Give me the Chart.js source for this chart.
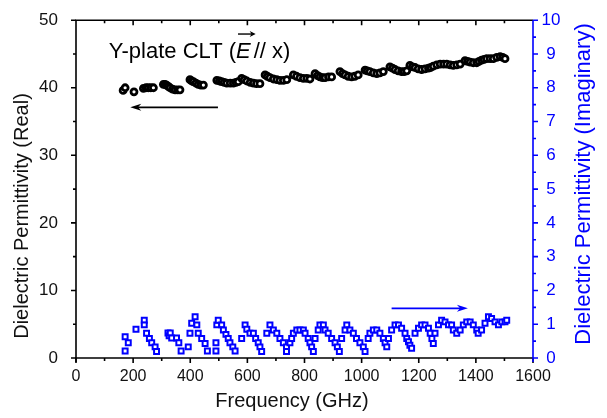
<!DOCTYPE html>
<html>
<head>
<meta charset="utf-8">
<script src="https://cdn.jsdelivr.net/npm/chart.js@4"></script>
<style>
  html, body { margin: 0; padding: 0; background: #fff; }
  #wrap { width: 607px; height: 418px; }
</style>
</head>
<body>
<div id="wrap"><canvas id="c"></canvas></div>
<script>
// --- data ---
const realFreq = [165, 172, 203, 236, 245, 253, 262, 271,
  306, 312, 317, 323, 329, 338, 347, 356, 364,
  399, 405, 411, 420, 428, 437, 446,
  493, 502, 510, 519, 528, 540, 551, 560, 568,
  580, 589, 598, 610, 621, 632, 644,
  662, 670, 679, 691, 703, 714, 726, 738,
  761, 772, 784, 796, 808, 819,
  837, 846, 854, 863, 872, 884, 895,
  924, 933, 942, 953, 965, 976, 988,
  1012, 1020, 1029, 1041, 1053, 1064, 1076,
  1099, 1108, 1117, 1128, 1140, 1149, 1158,
  1169, 1178, 1187, 1198, 1210, 1222, 1234, 1242, 1251,
  1263, 1275, 1287, 1298, 1310, 1321, 1333, 1345,
  1362, 1371, 1380, 1391, 1403, 1411, 1420,
  1429, 1438, 1450, 1461, 1473, 1485, 1494, 1502];
const realVals = [39.6, 40.0, 39.4, 39.9, 40.0, 40.0, 40.0, 40.0,
  40.5, 40.5, 40.4, 40.2, 40.0, 39.8, 39.7, 39.7, 39.7,
  41.2, 41.0, 40.9, 40.7, 40.5, 40.4, 40.4,
  41.1, 41.0, 40.9, 40.8, 40.7, 40.7, 40.7, 40.8, 40.9,
  41.4, 41.2, 41.0, 40.8, 40.7, 40.6, 40.6,
  41.9, 41.7, 41.5, 41.3, 41.2, 41.1, 41.1, 41.2,
  41.9, 41.7, 41.5, 41.4, 41.4, 41.3,
  42.1, 41.8, 41.6, 41.5, 41.5, 41.6, 41.6,
  42.4, 42.1, 41.9, 41.7, 41.6, 41.7, 41.9,
  42.6, 42.5, 42.4, 42.2, 42.1, 42.2, 42.4,
  43.1, 42.9, 42.7, 42.5, 42.4, 42.4, 42.5,
  43.3, 43.1, 43.0, 42.8, 42.7, 42.8, 42.9, 43.0, 43.2,
  43.4, 43.5, 43.5, 43.5, 43.4, 43.3, 43.4, 43.5,
  44.0, 43.9, 43.8, 43.7, 43.7, 43.9, 44.1,
  44.2, 44.3, 44.3, 44.3, 44.5, 44.6, 44.5, 44.3];

const imagFreq = [172, 172, 183, 210, 239, 239, 247, 257, 265, 277, 282,
  322, 326, 330, 335, 352, 360, 368, 393, 399, 405, 417, 423, 428, 440, 452, 460,
  490, 490, 493, 498, 510, 516, 525, 533, 539, 549, 557,
  580, 592, 598, 609, 621, 629, 638, 644, 650,
  668, 679, 691, 703, 714, 726, 737, 737,
  749, 755, 761, 773, 784, 796, 802, 813, 819, 825, 831,
  837, 848, 854, 866, 872, 883, 895, 907, 915, 922,
  930, 942, 948, 959, 971, 982, 994, 1006, 1012,
  1023, 1029, 1041, 1053, 1064, 1076, 1082, 1088,
  1094, 1105, 1117, 1129, 1140, 1152, 1158, 1164, 1169, 1175,
  1187, 1199, 1210, 1222, 1234, 1240, 1246, 1251,
  1257, 1269, 1280, 1292, 1304, 1315, 1321, 1333,
  1345, 1356, 1368, 1380, 1391, 1403, 1408,
  1420, 1432, 1444, 1455, 1467, 1479, 1491, 1502, 1508];
const imagVals = [0.63, 0.21, 0.45, 0.85, 1.12, 0.98, 0.73, 0.58, 0.45, 0.33, 0.19,
  0.74, 0.66, 0.74, 0.59, 0.59, 0.45, 0.21, 0.33, 0.73, 1.03, 1.22, 0.98, 0.73, 0.58, 0.43, 0.21,
  0.45, 0.21, 0.98, 1.12, 0.98, 0.83, 0.70, 0.58, 0.45, 0.33, 0.21,
  0.58, 0.98, 0.85, 0.73, 0.73, 0.58, 0.45, 0.33, 0.19,
  0.73, 0.98, 0.83, 0.73, 0.58, 0.45, 0.33, 0.19,
  0.45, 0.58, 0.73, 0.83, 0.83, 0.83, 0.73, 0.58, 0.45, 0.33, 0.19,
  0.58, 0.83, 0.98, 0.98, 0.83, 0.73, 0.58, 0.45, 0.33, 0.19,
  0.58, 0.83, 0.98, 0.83, 0.73, 0.58, 0.45, 0.33, 0.19,
  0.58, 0.73, 0.83, 0.83, 0.73, 0.58, 0.45, 0.33,
  0.58, 0.83, 0.98, 0.98, 0.88, 0.73, 0.58, 0.48, 0.38, 0.29,
  0.73, 0.88, 0.98, 0.98, 0.88, 0.73, 0.58, 0.43,
  0.73, 0.98, 1.12, 1.07, 0.98, 0.98, 0.83, 0.73,
  0.83, 0.98, 1.07, 1.07, 0.98, 0.83, 0.73,
  0.83, 1.03, 1.22, 1.17, 1.07, 0.98, 1.07, 1.07, 1.12];

const xTitle = 'Frequency (GHz)';
const yTitle = 'Dielectric Permittivity (Real)';
const y1Title = 'Dielectric Permittivity (Imaginary)';
const y1Labels = ['0', '1', '2', '3', '4', '5', '6', '7', '8', '9', '10'];
const BLUE = '#0000ff';
const FONT = 'Liberation Sans, Arial, Helvetica, sans-serif';

// frame, minor ticks, titles, annotations
const framePlugin = {
    id: 'frame',
    afterDraw(chart) {
        const ctx = chart.ctx;
        const x = chart.scales.x, y = chart.scales.y, y1 = chart.scales.y1;
        const L = x.left, R = x.right, T = y.top, B = y.bottom;
        ctx.save();
        ctx.lineWidth = 1.6;
        ctx.lineCap = 'butt';

        // black part of frame
        ctx.strokeStyle = '#000';
        ctx.beginPath();
        ctx.moveTo(R, T); ctx.lineTo(L, T); ctx.lineTo(L, B + 4);
        ctx.moveTo(L - 1, B); ctx.lineTo(R, B);
        ctx.stroke();

        ctx.beginPath();
        for (let v = 0; v <= 1600; v += 100) {
            const px = x.getPixelForValue(v);
            const len = v % 200 === 0 ? 5 : 3;
            ctx.moveTo(px, B); ctx.lineTo(px, B + len);
            if (v > 0 && v < 1600) { ctx.moveTo(px, T); ctx.lineTo(px, T + len); }
        }
        for (let v = 0; v <= 50; v += 5) {
            const py = y.getPixelForValue(v);
            const len = v % 10 === 0 ? 5 : 3;
            ctx.moveTo(L, py); ctx.lineTo(L - len, py);
        }
        ctx.stroke();

        // blue right axis
        ctx.strokeStyle = BLUE;
        ctx.beginPath();
        ctx.moveTo(R, T); ctx.lineTo(R, B + 4);
        for (let i = 0; i <= 20; i++) {
            const py = y1.getPixelForValue(i / 2);
            const len = i % 2 === 0 ? 5 : 3;
            ctx.moveTo(R, py); ctx.lineTo(R + len, py);
        }
        ctx.stroke();

        // right tick labels, centred like the original
        ctx.fillStyle = BLUE;
        ctx.font = '17px ' + FONT;
        ctx.textAlign = 'center';
        ctx.textBaseline = 'middle';
        y1Labels.forEach((t, i) => ctx.fillText(t, 551, y1.getPixelForValue(i)));

        // axis titles
        ctx.fillStyle = '#111';
        ctx.font = '20px ' + FONT;
        ctx.fillText(xTitle, 292, 401);

        ctx.translate(22, 216);
        ctx.rotate(-Math.PI / 2);
        ctx.fillText(yTitle, 0, 0);
        ctx.setTransform(1, 0, 0, 1, 0, 0);

        ctx.fillStyle = BLUE;
        ctx.font = '22px ' + FONT;
        ctx.translate(584, 184);
        ctx.rotate(-Math.PI / 2);
        ctx.fillText(y1Title, 0, 0);
        ctx.setTransform(1, 0, 0, 1, 0, 0);

        // label "Y-plate CLT (E // x)"
        const tx = x.getPixelForValue(115), ty = y.getPixelForValue(44.4);
        ctx.fillStyle = '#000';
        ctx.textAlign = 'left';
        ctx.textBaseline = 'alphabetic';
        ctx.font = '22px ' + FONT;
        const p1 = 'Y-plate CLT (';
        ctx.fillText(p1, tx, ty);
        const w1 = ctx.measureText(p1).width;
        ctx.font = 'italic 22px ' + FONT;
        ctx.fillText('E', tx + w1, ty);
        const wE = ctx.measureText('E').width + 3;
        ctx.font = '22px ' + FONT;
        ctx.fillText('// x)', tx + w1 + wE, ty);
        drawArrow(ctx, tx + w1 + 2, ty - 24, tx + w1 + wE + 2, ty - 24, '#000', 1.4, 6, 3);

        // direction arrows
        drawArrow(ctx, x.getPixelForValue(497), y.getPixelForValue(37.1),
            x.getPixelForValue(190), y.getPixelForValue(37.1), '#000', 1.8, 11, 3.5);
        drawArrow(ctx, x.getPixelForValue(1105), y1.getPixelForValue(1.47),
            x.getPixelForValue(1372), y1.getPixelForValue(1.47), BLUE, 1.8, 11, 3.5);
        ctx.restore();
    }
};

function drawArrow(ctx, x0, y0, x1, y1, color, lw, head, half) {
    const dir = Math.sign(x1 - x0);
    ctx.strokeStyle = color;
    ctx.fillStyle = color;
    ctx.lineWidth = lw;
    ctx.beginPath();
    ctx.moveTo(x0, y0); ctx.lineTo(x1 - dir * head * 0.6, y1);
    ctx.stroke();
    ctx.beginPath();
    ctx.moveTo(x1, y1);
    ctx.lineTo(x1 - dir * head, y1 - half);
    ctx.lineTo(x1 - dir * head * 0.7, y1);
    ctx.lineTo(x1 - dir * head, y1 + half);
    ctx.closePath();
    ctx.fill();
}

const realData = realFreq.map((f, i) => ({ x: f, y: realVals[i] }));
const imagData = imagFreq.map((f, i) => ({ x: f, y: imagVals[i] }));

new Chart(document.getElementById('c'), {
    type: 'scatter',
    data: {
        datasets: [
            {
                label: 'Real',
                data: realData,
                yAxisID: 'y',
                pointStyle: 'circle',
                pointRadius: 3,
                borderWidth: 2.8,
                borderColor: '#000',
                backgroundColor: '#fff'
            },
            {
                label: 'Imaginary',
                data: imagData,
                yAxisID: 'y1',
                pointStyle: 'rect',
                pointRadius: 3.5,
                borderWidth: 2,
                borderColor: BLUE,
                backgroundColor: '#fff'
            }
        ]
    },
    options: {
        responsive: true,
        maintainAspectRatio: false,
        animation: false,
        layout: { padding: { top: 20, left: 0, right: 0, bottom: 0 } },
        plugins: { legend: { display: false }, tooltip: { enabled: false } },
        scales: {
            x: {
                type: 'linear',
                min: 0, max: 1600,
                grid: { display: false },
                border: { display: false },
                ticks: { stepSize: 200, color: '#111', padding: 1, maxRotation: 0,
                         callback: v => String(v),
                         font: { family: FONT, size: 16 } },
                title: { display: false },
                afterFit: s => { s.height = 60; }
            },
            y: {
                position: 'left',
                min: 0, max: 50,
                grid: { display: false },
                border: { display: false },
                ticks: { stepSize: 10, color: '#111', padding: 10,
                         callback: v => String(v),
                         font: { family: FONT, size: 17 } },
                title: { display: false },
                afterFit: s => { s.width = 76; }
            },
            y1: {
                position: 'right',
                min: 0, max: 10,
                grid: { display: false },
                border: { display: false },
                ticks: { display: false, stepSize: 1 },
                title: { display: false },
                afterFit: s => { s.width = 74; }
            }
        }
    },
    plugins: [framePlugin]
});
</script>
</body>
</html>
